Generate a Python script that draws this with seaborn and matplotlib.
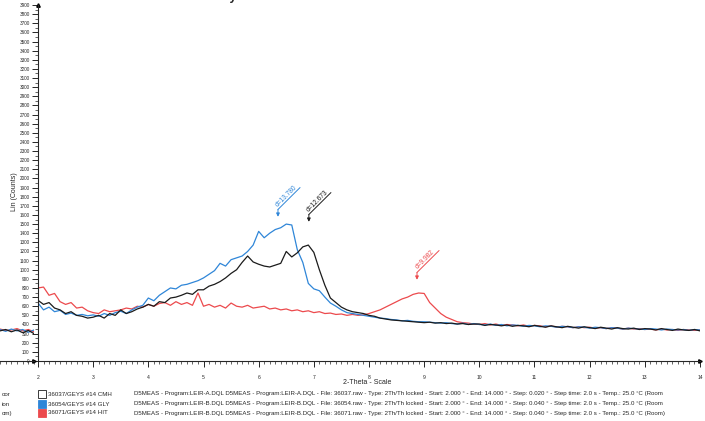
import matplotlib
matplotlib.use("Agg")
import matplotlib.pyplot as plt
import numpy as np
import pandas as pd
import seaborn as sns
from matplotlib.patches import Rectangle
from matplotlib.ticker import MultipleLocator

# 2-theta grid (deg) and counts, 0.1 deg apart
two_theta = np.round(np.arange(2.0, 14.0001, 0.1), 1)

counts_cmh = [
    665, 620, 640, 580, 560, 520, 540, 500, 490, 470,
    480, 500, 470, 520, 500, 560, 520, 540, 570, 590,
    620, 600, 650, 640, 690, 700, 720, 745, 730, 780,
    780, 820, 840, 870, 910, 960, 1000, 1080, 1150, 1085,
    1060, 1040, 1030, 1050, 1070, 1200, 1140, 1185, 1250, 1270,
    1190, 1000, 830, 690, 640, 590, 560, 540, 530, 520,
    500, 490, 470, 460, 450, 445, 440, 435, 430, 425,
    420, 425, 415, 420, 410, 415, 405, 410, 400, 405,
    405, 390, 400, 395, 385, 395, 380, 390, 385, 375,
    390, 380, 370, 385, 375, 365, 380, 370, 360, 375,
    365, 355, 370, 360, 350, 365, 355, 350, 360, 345,
    355, 350, 340, 355, 345, 335, 350, 340, 335, 345,
    330,
]
counts_gly = [
    635, 560, 590, 540, 555, 510, 525, 500, 510, 495,
    505, 490, 520, 500, 530, 545, 520, 560, 590, 610,
    690, 660, 720, 760, 800, 790, 830, 840, 860, 880,
    910, 950, 990, 1070, 1040, 1110, 1130, 1150, 1200, 1270,
    1420, 1350, 1400, 1440, 1460, 1500, 1490, 1220, 1080, 850,
    790, 770, 700, 635, 600, 560, 530, 520, 510, 500,
    490, 480, 470, 465, 455, 450, 440, 445, 435, 430,
    430, 425, 420, 415, 420, 410, 405, 415, 400, 410,
    400, 395, 405, 390, 400, 385, 395, 390, 380, 390,
    385, 375, 385, 380, 370, 380, 375, 365, 375, 370,
    360, 370, 365, 355, 365, 360, 350, 360, 355, 350,
    345, 355, 350, 340, 350, 345, 340, 345, 335, 345,
    340,
]
counts_hit = [
    800, 810, 720, 740, 650, 620, 640, 580, 590, 550,
    530, 520, 560, 540, 550, 560, 580, 570, 600, 590,
    620, 600, 630, 640, 610, 650, 620, 640, 610, 745,
    600, 620, 590, 610, 580, 635, 600, 590, 610, 580,
    590, 600, 570, 580, 560, 570, 550, 560, 540, 550,
    530, 540, 520, 525, 510, 515, 500, 510, 500, 505,
    520, 540, 560, 590, 620, 650, 680, 700, 730, 745,
    740, 640, 580, 520, 480, 455, 430, 420, 415, 405,
    400, 410, 395, 405, 390, 400, 395, 385, 395, 380,
    390, 385, 375, 385, 370, 380, 375, 365, 375, 365,
    370, 360, 365, 355, 365, 360, 350, 360, 350, 355,
    345, 350, 340, 350, 340, 345, 335, 345, 340, 335,
    340,
]

scan_names = ["36037/GEYS #14 CMH", "36054/GEYS #14 GLY", "36071/GEYS #14 HIT"]
scan_colors = ["#1b1b1b", "#2f86d8", "#ec4a4d"]
scan_info = [
    "D5MEAS - Program:LEIR-A.DQL D5MEAS - Program:LEIR-A.DQL - File: 36037.raw - Type: 2Th/Th locked - Start: 2.000 ° - End: 14.000 ° - Step: 0.020 ° - Step time: 2.0 s - Temp.: 25.0 °C (Room",
    "D5MEAS - Program:LEIR-B.DQL D5MEAS - Program:LEIR-B.DQL - File: 36054.raw - Type: 2Th/Th locked - Start: 2.000 ° - End: 14.000 ° - Step: 0.040 ° - Step time: 2.0 s - Temp.: 25.0 °C (Room",
    "D5MEAS - Program:LEIR-B.DQL D5MEAS - Program:LEIR-B.DQL - File: 36071.raw - Type: 2Th/Th locked - Start: 2.000 ° - End: 14.000 ° - Step: 0.040 ° - Step time: 2.0 s - Temp.: 25.0 °C (Room)",
]

# peak markers: label, 2-theta, arrow tip height
peak_labels = ["d=13.780", "d=12.673", "d=9.982"]
peak_2theta = [6.35, 6.91, 8.87]
peak_tip = [1580, 1525, 890]
peak_scan = [1, 0, 2]

# tail of the neighbouring (cropped) chart on the left
frag_x = [13.4, 13.5, 13.6, 13.7, 13.8, 13.9, 14.0]
frag_cmh = [330, 345, 320, 340, 310, 335, 300]
frag_gly = [345, 325, 350, 330, 345, 315, 340]
frag_hit = [350, 335, 340, 355, 330, 345, 320]

sns.set_style("ticks")
plt.rcParams["font.family"] = ["Liberation Sans", "DejaVu Sans"]

df = pd.DataFrame({
    "2-Theta": np.tile(two_theta, 3),
    "Lin (Counts)": counts_cmh + counts_gly + counts_hit,
    "scan": np.repeat(scan_names, len(two_theta)),
})

fig = plt.figure(figsize=(7.05, 4.21), dpi=100)
ax = fig.add_axes([38 / 705, 1 - 361 / 421, 662 / 705, 356 / 421])
palette = dict(zip(scan_names, scan_colors))
sns.lineplot(data=df, x="2-Theta", y="Lin (Counts)", hue="scan",
             hue_order=[scan_names[2], scan_names[1], scan_names[0]],
             palette=palette, lw=0.9, legend=False, estimator=None, ax=ax)

ax.set_xlim(2, 14)
ax.set_ylim(0, 3900)
ax.xaxis.set_major_locator(MultipleLocator(1))
ax.xaxis.set_minor_locator(MultipleLocator(0.1))
ax.yaxis.set_major_locator(MultipleLocator(100))
ax.yaxis.set_minor_locator(MultipleLocator(50))
ax.tick_params(axis="both", which="major", direction="out", length=4, width=0.7, labelsize=3.3, pad=2)
ax.tick_params(axis="both", which="minor", direction="out", length=2, width=0.5)
ax.tick_params(axis="x", which="major", pad=6, labelsize=3.6)
for s in ["top", "right"]:
    ax.spines[s].set_visible(False)
for s in ["left", "bottom"]:
    ax.spines[s].set_linewidth(0.8)
ax.set_xlabel("")
ax.set_ylabel("")
ax.plot(0, 1, "^k", ms=2.5, transform=ax.transAxes, clip_on=False)
ax.plot(1, 0, ">k", ms=2.5, transform=ax.transAxes, clip_on=False)

fig.text(14 / 705, 1 - 192 / 421, "Lin (Counts)", rotation=90, ha="center", va="center", fontsize=5)
fig.text(367 / 705, 1 - 383 / 421, "2-Theta - Scale", ha="center", va="center", fontsize=5)

for lab, x, tip, k in zip(peak_labels, peak_2theta, peak_tip, peak_scan):
    c = scan_colors[k]
    stem = tip + 80
    ax.annotate("", xy=(x, tip), xytext=(x, stem),
                arrowprops=dict(arrowstyle="-|>", color=c, lw=0.7, mutation_scale=5,
                                shrinkA=0, shrinkB=0))
    ax.plot([x, x + 0.40], [stem, stem + 240], color=c, lw=0.7)
    ax.text(x + 0.20, stem + 120, lab, color=c, fontsize=4.8, rotation=45,
            rotation_mode="anchor", ha="center", va="bottom")

# legend rows under the axis
row_y = [394, 404, 413]
for name, c, info, y in zip(scan_names, scan_colors, scan_info, row_y):
    fy = 1 - y / 421
    fig.patches.append(Rectangle((38 / 705, fy - 4 / 421), 8 / 705, 8 / 421,
                                 transform=fig.transFigure, facecolor=c if c != "#1b1b1b" else "white",
                                 edgecolor=c, lw=0.6))
    fig.text(48 / 705, fy, name, fontsize=4.4, va="center", ha="left")
    fig.text(134 / 705, fy, info, fontsize=4.4, va="center", ha="left")

# cropped neighbour chart on the far left
frag = fig.add_axes([0, 1 - 361 / 421, 34 / 705, 356 / 421])
frag.plot(frag_x, frag_hit, color=scan_colors[2], lw=0.9)
frag.plot(frag_x, frag_gly, color=scan_colors[1], lw=0.9)
frag.plot(frag_x, frag_cmh, color=scan_colors[0], lw=0.9)
frag.set_xlim(13.4, 14)
frag.set_ylim(0, 3900)
frag.xaxis.set_minor_locator(MultipleLocator(0.1))
frag.set_xticks([])
frag.set_yticks([])
frag.tick_params(axis="x", which="minor", direction="out", length=2, width=0.5)
for s in ["top", "right", "left"]:
    frag.spines[s].set_visible(False)
frag.spines["bottom"].set_linewidth(0.8)
frag.patch.set_alpha(0)
frag.plot(1, 0, ">k", ms=2.5, transform=frag.transAxes, clip_on=False)
for t, y in zip(["oor", "ion", "om)"], row_y):
    fig.text(0.002, 1 - y / 421, t, fontsize=4.4, va="center", ha="left")

fig.text(258 / 705, 1.006, "Clay GY", fontsize=9, fontweight="bold", ha="right", va="center")

fig.savefig("out.png", dpi=100)
